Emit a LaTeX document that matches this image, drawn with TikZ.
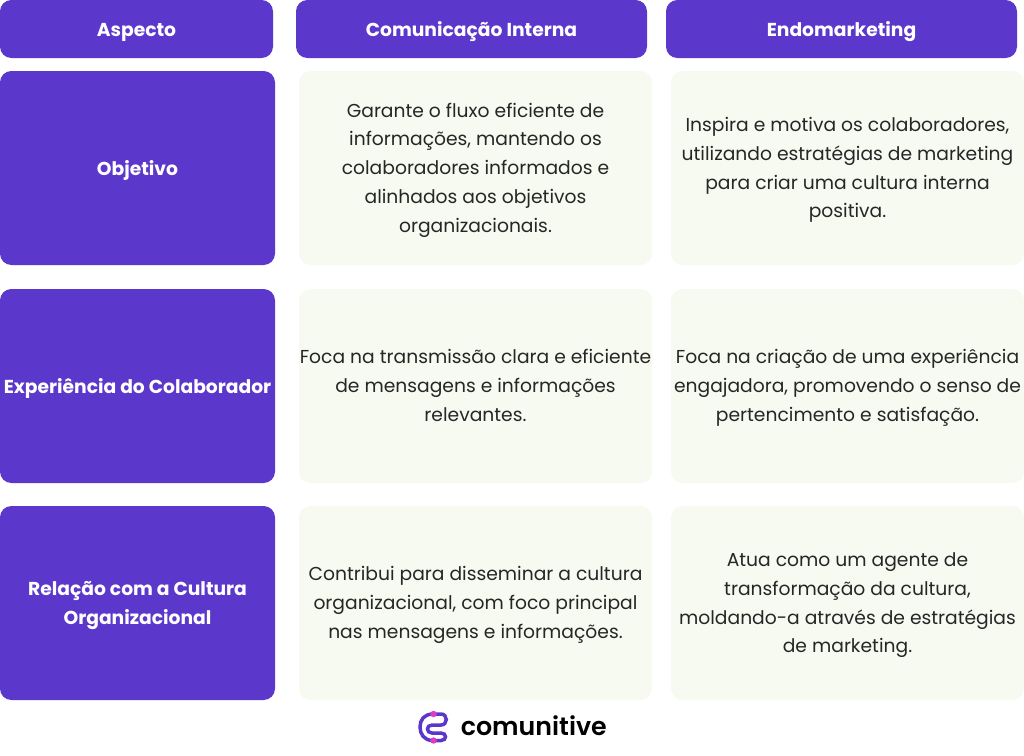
\documentclass[tikz,border=0pt]{standalone}
\usepackage{fontspec}
\setmainfont{Poppins}
\newfontfamily\logofont{Poppins SemiBold}
\usepackage{xcolor}
\definecolor{myviolet}{HTML}{5B38CB}
\definecolor{mycream}{HTML}{F7FAF0}
\definecolor{mypink}{HTML}{E03BC4}
\newcommand{\topgap}{\rule{0pt}{12.6pt}}
\tikzset{
	headbox/.style={fill=myviolet,rounded corners=6.5,text=white,font=\fontsize{10.65}{16.4}\selectfont\bfseries,align=center,inner sep=0,execute at begin node=\rule{0pt}{13.8pt},execute at end node=\strut},
	cellbox/.style={fill=mycream,rounded corners=6.5,text=black!85,font=\fontsize{10.65}{16.4}\selectfont,align=center,inner sep=0,execute at end node=\strut},
}
\begin{document}
\begin{tikzpicture}[x=0.02cm,y=-0.02cm]
	\useasboundingbox (0,0) rectangle (1024,755);
	\node [headbox,minimum width=273*0.02cm,minimum height=58*0.02cm] (aspecto) at (136.5,29) {Aspecto};
	\node [headbox,minimum width=351*0.02cm,minimum height=58*0.02cm] (interna) at (471.5,29) {Comunicação Interna};
	\node [headbox,minimum width=351*0.02cm,minimum height=58*0.02cm] (endo) at (841.5,29) {Endomarketing};
	\node [headbox,minimum width=275*0.02cm,minimum height=194*0.02cm] (objetivo) at (137.5,168) {Objetivo};
	\node [cellbox,minimum width=353*0.02cm,minimum height=194*0.02cm] (objetivoA) at (475.5,168) {\topgap Garante o fluxo eficiente de\\informações, mantendo os\\colaboradores informados e\\alinhados aos objetivos\\organizacionais.};
	\node [cellbox,minimum width=353*0.02cm,minimum height=194*0.02cm] (objetivoB) at (847.5,168) {\topgap Inspira e motiva os colaboradores,\\utilizando estratégias de marketing\\para criar uma cultura interna\\positiva.};
	\node [headbox,minimum width=275*0.02cm,minimum height=194*0.02cm] (experiencia) at (137.5,386) {Experiência do Colaborador};
	\node [cellbox,minimum width=353*0.02cm,minimum height=194*0.02cm] (experienciaA) at (475.5,386) {\topgap Foca na transmissão clara e eficiente\\de mensagens e informações\\relevantes.};
	\node [cellbox,minimum width=353*0.02cm,minimum height=194*0.02cm] (experienciaB) at (847.5,386) {\topgap Foca na criação de uma experiência\\engajadora, promovendo o senso de\\pertencimento e satisfação.};
	\node [headbox,execute at begin node={},minimum width=275*0.02cm,minimum height=194*0.02cm] (relacao) at (137.5,603) {\topgap Relação com a Cultura\\Organizacional};
	\node [cellbox,minimum width=353*0.02cm,minimum height=194*0.02cm] (relacaoA) at (475.5,603) {\topgap Contribui para disseminar a cultura\\organizacional, com foco principal\\nas mensagens e informações.};
	\node [cellbox,minimum width=353*0.02cm,minimum height=194*0.02cm] (relacaoB) at (847.5,603) {\topgap Atua como um agente de\\transformação da cultura,\\moldando-a através de estratégias\\de marketing.};
	% logo
	\draw [myviolet,line width=0.07cm,line cap=round] (433,714) .. controls (424,714) and (420,720) .. (420,727) .. controls (420,734) and (424,740.5) .. (433,740.5);
	\draw [myviolet,line width=0.07cm,line cap=round] (433,714) -- (441,714) .. controls (448,714) and (448,725) .. (441,725) -- (432,725) .. controls (426,725) and (426,733) .. (432,733) -- (441,733) .. controls (447,733) and (447,740.5) .. (441,740.5) -- (433,740.5);
	\fill [mypink] (433.5,714) circle (3.2);
	\fill [mypink] (433.5,740.5) circle (3.2);
	\node [font=\fontsize{14.4}{16}\logofont,text=black,anchor=west,inner sep=0] (comunitive) at (460.5,726) {comunitive};
\end{tikzpicture}
\end{document}
